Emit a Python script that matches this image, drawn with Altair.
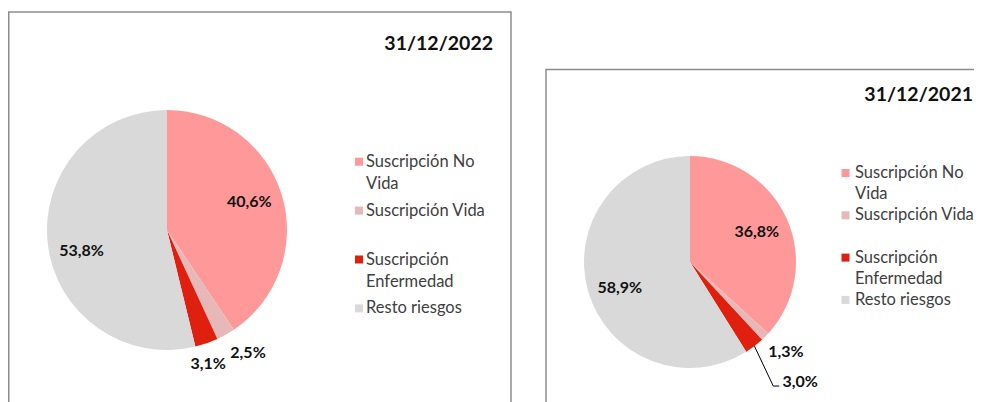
import math
import altair as alt
import pandas as pd

# ---------------- data ----------------
categories = ["Suscripción No Vida", "Suscripción Vida", "Suscripción Enfermedad", "Resto riesgos"]
values_2022 = [40.6, 2.5, 3.1, 53.8]
values_2021 = [36.8, 1.3, 3.0, 58.9]
titles = ["31/12/2022", "31/12/2021"]
legend_line1 = ["Suscripción No", "Suscripción Vida", "Suscripción", "Resto riesgos"]
legend_line2 = ["Vida", "", "Enfermedad", ""]
colors = ["#FF9999", "#E6B9B8", "#DF200E", "#D9D9D9"]

# ---------------- layout helpers ----------------
OFF = 8  # page margin
W, H = 966, 394
FONT = "Lato"
BORDER = "#8C8C8C"

color_scale = alt.Scale(domain=categories, range=colors)
theta_scale = alt.Scale(domain=[0, 100])


def P(v):
    return v - OFF


def fmt(v):
    return f"{v:.1f}".replace(".", ",") + "%"


def panel_df(values):
    return pd.DataFrame({
        "cat": categories,
        "value": values,
        "idx": list(range(len(categories))),
        "label": [fmt(v) for v in values],
    })


def pie(df, cx, cy, r):
    return alt.Chart(df).mark_arc(outerRadius=r).encode(
        theta=alt.Theta("value:Q", stack=True, scale=theta_scale),
        color=alt.Color("cat:N", scale=color_scale, legend=None),
        order=alt.Order("idx:Q"),
        x=alt.value(P(cx)),
        y=alt.value(P(cy)),
    )


def label(df, cat, cx, cy, radius, dx=0, dy=0):
    return alt.Chart(df).transform_calculate(
        lab=f"datum.cat == '{cat}' ? datum.label : ''"
    ).mark_text(
        radius=radius, dx=dx, dy=dy, font=FONT, fontSize=16, fontWeight="bold",
        color="#111111", align="center", baseline="middle",
    ).encode(
        theta=alt.Theta("value:Q", stack=True, scale=theta_scale),
        detail="cat:N",
        order=alt.Order("idx:Q"),
        text="lab:N",
        x=alt.value(P(cx)),
        y=alt.value(P(cy)),
    )


def leader(values, i, cx, cy, r, label_r, ldx, ldy):
    start_frac = sum(values[:i]) / 100.0
    mid = (start_frac + values[i] / 200.0) * 2 * math.pi
    sx, sy = cx + r * math.sin(mid), cy - r * math.cos(mid)
    lx, ly = cx + label_r * math.sin(mid) + ldx, cy - label_r * math.cos(mid) + ldy
    pts = pd.DataFrame({
        "k": [0, 1, 2],
        "x": [P(sx), P(lx - 27), P(lx - 21)],
        "y": [P(sy), P(ly + 4), P(ly + 4)],
    })
    return alt.Chart(pts).mark_line(color="#000000", strokeWidth=1).encode(
        x=alt.X("x:Q", scale=None),
        y=alt.Y("y:Q", scale=None),
        order="k:Q",
    )


def legend(sw_x, text_x, y0, step, line_h):
    ldf = pd.DataFrame({
        "cat": categories,
        "slot": list(range(len(categories))),
        "l1": legend_line1,
        "l2": legend_line2,
    })
    yenc = alt.Y("slot:Q", scale=alt.Scale(domain=[0, 3], range=[P(y0), P(y0 + 3 * step)]), axis=None)
    sw = alt.Chart(ldf).mark_square(size=64, opacity=1).encode(
        x=alt.value(P(sw_x)), y=yenc,
        color=alt.Color("cat:N", scale=color_scale, legend=None),
    )
    t1 = alt.Chart(ldf).mark_text(
        align="left", baseline="middle", font=FONT, fontSize=16.5, color="#404040"
    ).encode(x=alt.value(P(text_x)), y=yenc, text="l1:N")
    t2 = alt.Chart(ldf).mark_text(
        align="left", baseline="middle", font=FONT, fontSize=16.5, color="#404040", dy=line_h
    ).encode(x=alt.value(P(text_x)), y=yenc, text="l2:N")
    return [sw, t1, t2]


def frame(x0, y0, x1, y1):
    return alt.Chart(pd.DataFrame({"a": [0]})).mark_rect(
        filled=False, stroke=BORDER, strokeWidth=1.5
    ).encode(
        x=alt.value(P(x0)), x2=alt.value(P(x1)),
        y=alt.value(P(y0)), y2=alt.value(P(y1)),
    )


def title(txt, right_x, cy):
    return alt.Chart(pd.DataFrame({"t": [txt]})).mark_text(
        align="right", baseline="middle", font=FONT, fontSize=19.5,
        fontWeight="bold", color="#111111",
    ).encode(x=alt.value(P(right_x)), y=alt.value(P(cy)), text="t:N")


df22 = panel_df(values_2022)
df21 = panel_df(values_2021)

layers = [
    frame(8.75, 12, 511, 430),
    frame(546, 69.5, 1000, 430),
    # left panel
    pie(df22, 167, 230, 120),
    label(df22, categories[0], 167, 230, 86, 0, -3),
    label(df22, categories[3], 167, 230, 86, 0, 11),
    label(df22, categories[1], 167, 230, 147, 9, -5),
    label(df22, categories[2], 167, 230, 140, -5, 2),
    title(titles[0], 493, 44),
    # right panel
    pie(df21, 690, 262, 106),
    label(df21, categories[0], 690, 262, 73, 0, -1),
    label(df21, categories[3], 690, 262, 73, 0, 6),
    label(df21, categories[1], 690, 262, 131, 3, -2),
    label(df21, categories[2], 690, 262, 160, 13, -7),
    leader(values_2021, 2, 690, 262, 106, 160, 13, -7),
    title(titles[1], 973, 95),
]
layers += legend(359, 366, 161.7, 48.9, 22)
layers += legend(845.5, 855, 173, 42.3, 21)

chart = alt.layer(*layers).resolve_scale(
    y="independent"
).properties(
    width=W, height=H, padding=0, autosize="none", background="white"
).configure_view(stroke=None)

chart.save("out.html", embed_options={"renderer": "svg", "actions": False})
